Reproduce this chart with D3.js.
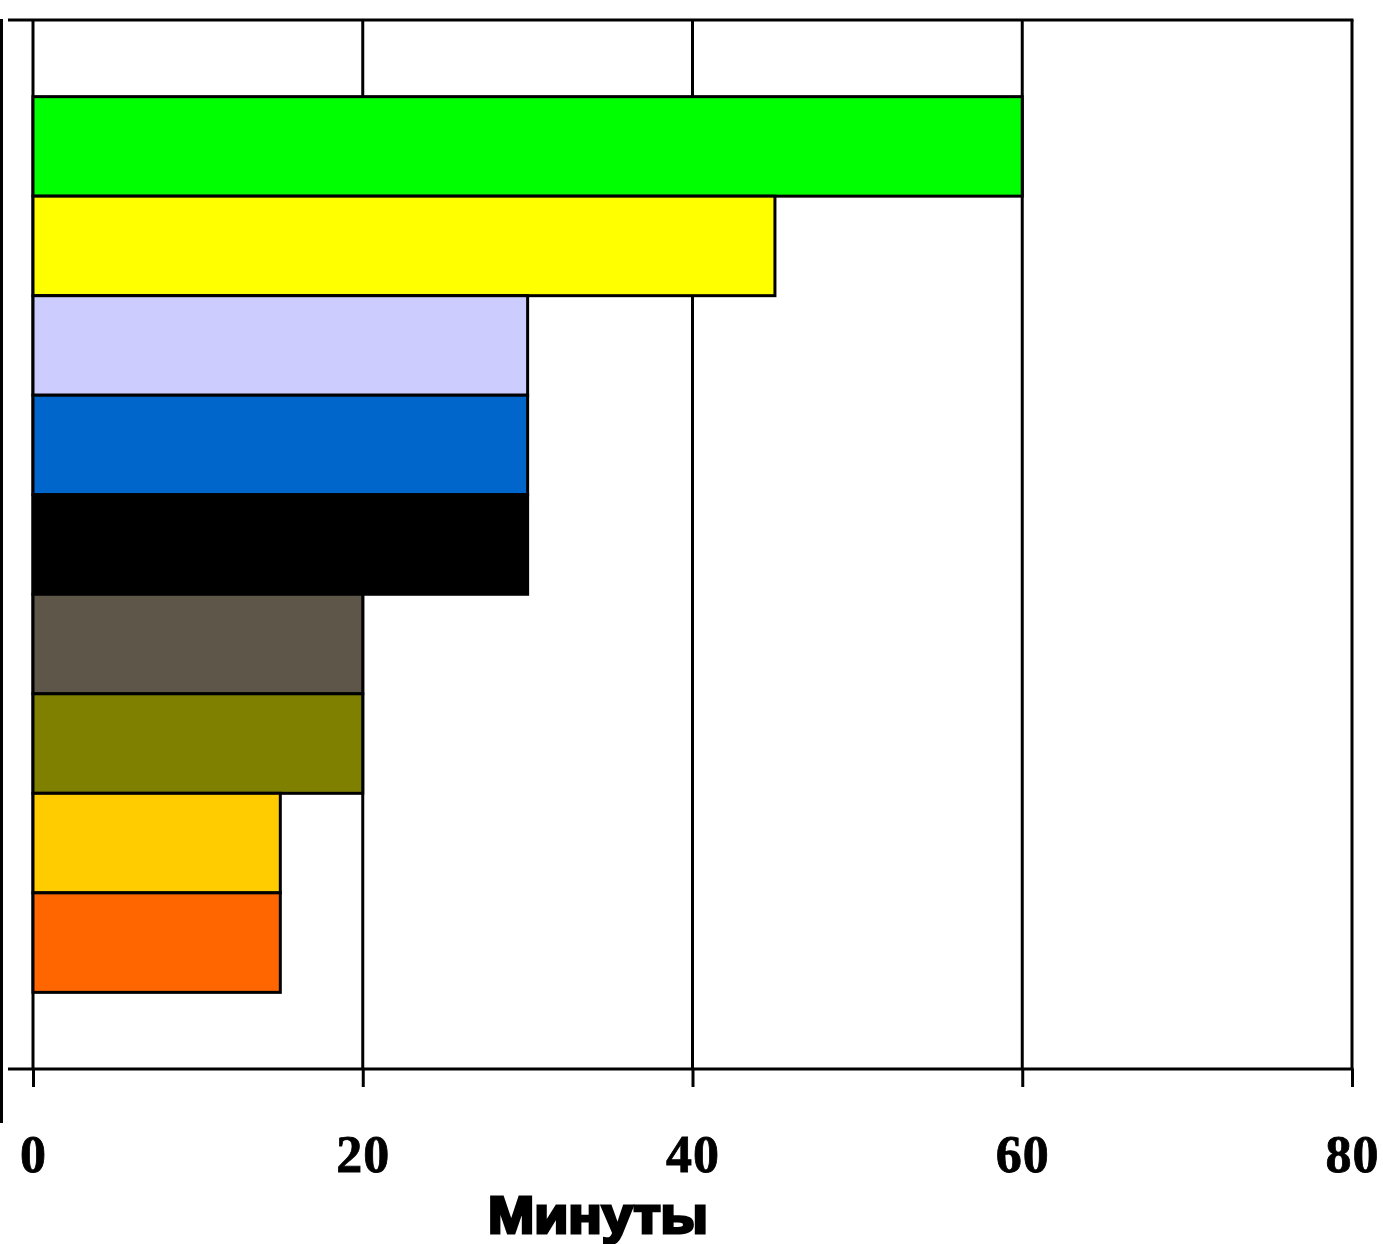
<!DOCTYPE html>
<html><head>
<meta charset="utf-8">
<title>Минуты</title>
<script src="https://d3js.org/d3.v7.min.js"></script>
<style>
body { margin: 0; background: #fff; }
svg { display: block; }
.tick text { font-family: "Liberation Serif", "Times New Roman", serif; font-weight: bold; }
</style>
</head>
<body>
<svg id="chart" width="1383" height="1244"></svg>
<script>
// data, top bar first
const categories = ["c1", "c2", "c3", "c4", "c5", "c6", "c7", "c8", "c9"];
const minutes = [60, 45, 30, 30, 30, 20, 20, 15, 15];
const barColors = ["#00ff00", "#ffff00", "#ccccff", "#0066cc", "#000000", "#5e5749", "#808000", "#ffcc00", "#ff6600"];
const xTicks = [0, 20, 40, 60, 80];
const xTitle = "Минуты";

const svg = d3.select("#chart");
const margin = { top: 20, right: 31, bottom: 175, left: 33 };
const width = +svg.attr("width");
const height = +svg.attr("height");
const plotRight = width - margin.right;
const plotBottom = height - margin.bottom;

const x = d3.scaleLinear().domain([0, 80]).range([margin.left, plotRight]);
const y = d3.scaleBand().domain(categories)
    .range([margin.top, plotBottom])
    .paddingInner(0).paddingOuter(0.77);

//gridlines
svg.append("g").selectAll("line").data(xTicks)
    .join("line")
    .attr("x1", d => x(d)).attr("x2", d => x(d))
    .attr("y1", margin.top).attr("y2", plotBottom)
    .attr("stroke", "#000").attr("stroke-width", 3);

//top border
svg.append("line")
    .attr("x1", 8).attr("x2", plotRight + 1.5)
    .attr("y1", margin.top).attr("y2", margin.top)
    .attr("stroke", "#000").attr("stroke-width", 3);

//far left line
svg.append("line")
    .attr("x1", 1.5).attr("x2", 1.5)
    .attr("y1", margin.top - 1).attr("y2", 1123)
    .attr("stroke", "#000").attr("stroke-width", 3);

//bars
svg.append("g").selectAll("rect").data(minutes)
    .join("rect")
    .attr("x", x(0))
    .attr("y", (d, i) => y(categories[i]))
    .attr("width", d => x(d) - x(0))
    .attr("height", y.bandwidth())
    .attr("fill", (d, i) => barColors[i])
    .attr("stroke", "#000").attr("stroke-width", 3);

//x axis
const xAxis = svg.append("g")
    .attr("transform", "translate(0," + plotBottom + ")")
    .call(d3.axisBottom(x).tickValues(xTicks).tickSize(18).tickPadding(48).tickSizeOuter(0));
xAxis.select(".domain").remove();
xAxis.selectAll(".tick line").attr("stroke-width", 3);
xAxis.selectAll(".tick text")
    .attr("font-size", 52)
    .attr("letter-spacing", 1)
    .attr("stroke", "#000").attr("stroke-width", 0.8)
    .attr("fill", "#000");
xAxis.append("line")
    .attr("x1", 8).attr("x2", plotRight + 1.5)
    .attr("y1", 0).attr("y2", 0)
    .attr("stroke", "#000").attr("stroke-width", 3);

//axis title
svg.append("text")
    .attr("x", 598)
    .attr("y", 1233)
    .attr("text-anchor", "middle")
    .attr("font-family", "'Liberation Sans', Arial, sans-serif")
    .attr("font-weight", "bold")
    .attr("font-size", 52)
    .attr("textLength", 220)
    .attr("lengthAdjust", "spacingAndGlyphs")
    .attr("stroke", "#000").attr("stroke-width", 3)
    .attr("fill", "#000")
    .text(xTitle);
</script>
</body>
</html>
